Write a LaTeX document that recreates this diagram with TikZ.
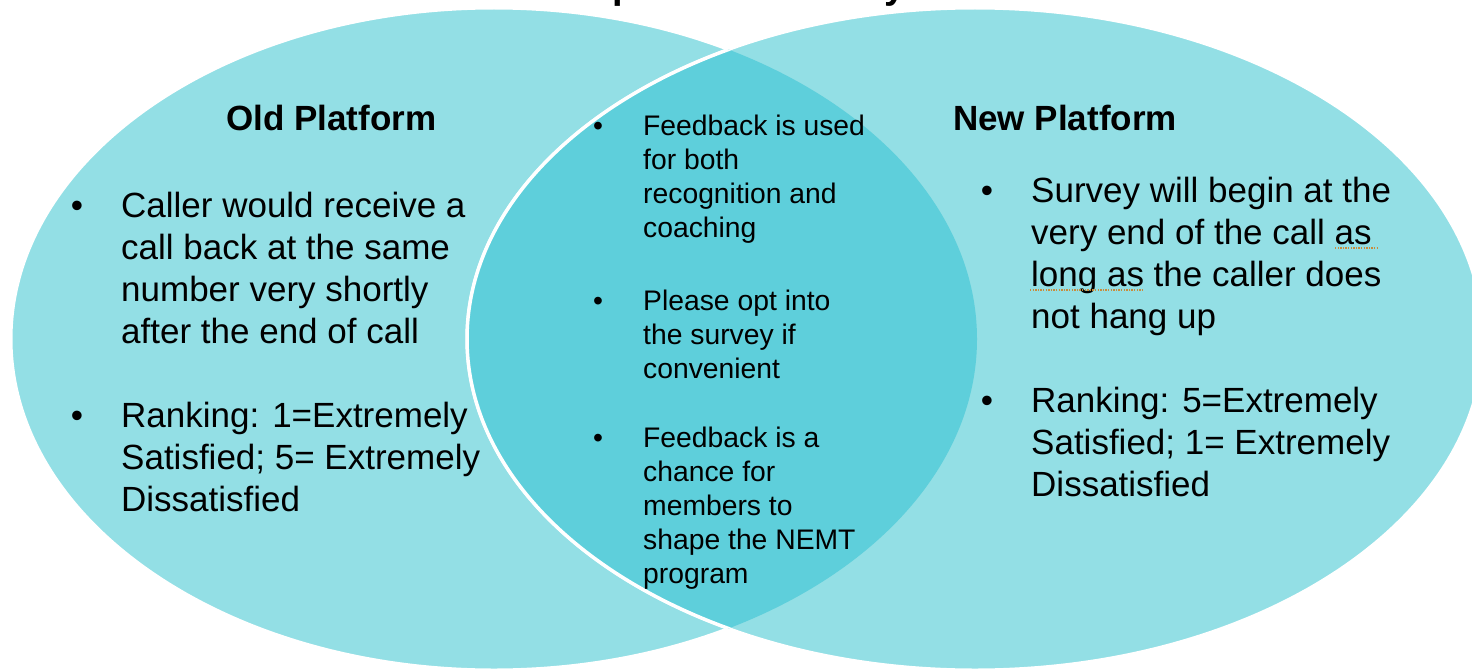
\documentclass[tikz,border=0pt]{standalone}
\usepackage{fontspec}
\setmainfont{Liberation Sans}
\definecolor{vennlight}{RGB}{147,223,229}
\definecolor{venndark}{RGB}{94,207,219}
\definecolor{proofmark}{RGB}{200,140,60}
\begin{document}
\begin{tikzpicture}[x=1pt,y=-1pt,
  body/.style={anchor=base west, inner sep=0pt, font=\fontsize{35}{42}\selectfont},
  bodydot/.style={anchor=base, inner sep=0pt, font=\fontsize{35}{42}\selectfont},
  mid/.style={anchor=base west, inner sep=0pt, font=\fontsize{28.3}{34}\selectfont},
  middot/.style={anchor=base, inner sep=0pt, font=\fontsize{28.3}{34}\selectfont},
  heading/.style={anchor=base west, inner sep=0pt, font=\fontsize{35}{42}\selectfont\bfseries},
  venn/.style={draw=white, line width=3pt},
  leftset/.style={x radius=483pt, y radius=331pt},
  rightset/.style={x radius=508pt, y radius=331pt}]
\useasboundingbox (0,0) rectangle (1472,669);
\clip (0,0) rectangle (1472,669);
\fill[white] (0,0) rectangle (1472,669);

% title, mostly above the page edge
\node[anchor=base, inner sep=0pt, font=\fontsize{38}{44}\selectfont\bfseries] (title) at (736,-1) {Experience Survey};

% the two sets
\path[venn, fill=vennlight] (494,339) ellipse [leftset];
\path[venn, fill=vennlight] (975,339) ellipse [rightset];
\begin{scope}
  \clip (494,339) ellipse [leftset];
  \fill[venndark] (975,339) ellipse [rightset];
  \draw[white, line width=3.5pt] (975,339) ellipse [rightset];
\end{scope}

% headings
\node[heading] (oldhead) at (226,130) {Old Platform};
\node[heading] (newhead) at (953,130) {New Platform};

% old platform
\node[bodydot] (oldb1) at (77,217) {•};
\node[bodydot] (oldb2) at (77,427) {•};
\foreach \y/\t [count=\i] in {217/{Caller would receive a},259/{call back at the same},301/{number very shortly},343/{after the end of call},427/{Ranking: 1=Extremely},469/{Satisfied; 5= Extremely},511/{Dissatisfied}}
  \node[body] (old\i) at (121,\y) {\t};

% shared
\node[middot] (midb1) at (598,135) {•};
\node[middot] (midb2) at (598,310) {•};
\node[middot] (midb3) at (598,447) {•};
\foreach \y/\t [count=\i] in {135/{Feedback is used},169/{for both},203/{recognition and},237/{coaching},310/{Please opt into},344/{the survey if},378/{convenient},447/{Feedback is a},481/{chance for},515/{members to},549/{shape the NEMT},583/{program}}
  \node[mid] (mid\i) at (643,\y) {\t};

% new platform
\node[bodydot] (newb1) at (987,202) {•};
\node[bodydot] (newb2) at (987,412) {•};
\foreach \y/\t [count=\i] in {202/{Survey will begin at the},244/{very end of the call as},286/{long as the caller does},328/{not hang up},412/{Ranking: 5=Extremely},454/{Satisfied; 1= Extremely},496/{Dissatisfied}}
  \node[body] (new\i) at (1031,\y) {\t};

% proofing marks under "as" and "long as"
\draw[proofmark, line width=1.3pt, dash pattern=on 1.3pt off 1.3pt] (1335,248) -- (1378,248);
\draw[proofmark, line width=1.3pt, dash pattern=on 1.3pt off 1.3pt] (1030,290) -- (1143,290);
\end{tikzpicture}
\end{document}
